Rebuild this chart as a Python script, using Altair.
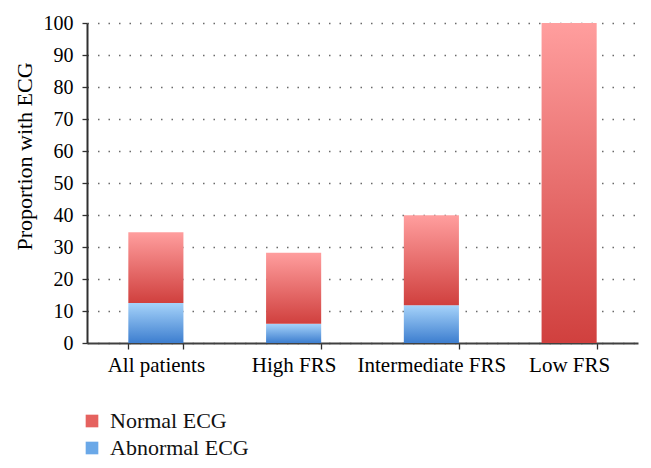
import altair as alt
import pandas as pd

categories = ["All patients", "High FRS", "Intermediate FRS", "Low FRS"]
abnormal = [12.5, 6.0, 11.8, 0.0]
normal = [22.1, 22.2, 28.1, 100.0]
series = ["Normal ECG", "Abnormal ECG"]
series_colors = ["#E5625F", "#6AA8E8"]
y_ticks = list(range(0, 101, 10))

df = pd.DataFrame({
    "category": categories,
    "abnormal": abnormal,
    "total": [a + n for a, n in zip(abnormal, normal)],
})
legend_df = pd.DataFrame({"series": series})

FONT = "Liberation Serif"

red_grad = alt.Gradient(
    gradient="linear", x1=0, x2=0, y1=0, y2=1,
    stops=[alt.GradientStop(color="#FF9E9E", offset=0),
           alt.GradientStop(color="#D0403E", offset=1)],
)
blue_grad = alt.Gradient(
    gradient="linear", x1=0, x2=0, y1=0, y2=1,
    stops=[alt.GradientStop(color="#A6D3FA", offset=0),
           alt.GradientStop(color="#3D7ECF", offset=1)],
)

x_enc = alt.X(
    "category:N", sort=categories, title=None,
    scale=alt.Scale(paddingInner=0.6, paddingOuter=0.3),
    axis=alt.Axis(labelAngle=0, tickBand="extent", labelFontSize=21,
                  labelPadding=5, tickSize=6, grid=False, domain=True,
                  ticks=True, tickColor="#303030", domainColor="#404040",
                  domainWidth=2),
)
y_axis = alt.Axis(values=y_ticks, labelFontSize=20, titleFontSize=22,
                  titlePadding=7, labelPadding=9, tickSize=5, domain=True,
                  ticks=True, grid=True, gridDash=[1.5, 9],
                  gridColor="#6a6a6a", gridWidth=1.3, titleY=133,
                  domainColor="#303030", domainWidth=2, tickColor="#303030")
y_scale = alt.Scale(domain=[0, 100], nice=False)

base = alt.Chart(df)

abn = base.mark_bar(fill=blue_grad).encode(
    x=x_enc,
    y=alt.Y("abnormal:Q", title="Proportion with ECG", scale=y_scale,
            axis=y_axis),
)
nor = base.mark_bar(fill=red_grad).encode(
    x=x_enc,
    y=alt.Y("abnormal:Q", title="Proportion with ECG", scale=y_scale,
            axis=y_axis),
    y2="total:Q",
)
leg = alt.Chart(legend_df).mark_square(opacity=0).encode(
    color=alt.Color(
        "series:N",
        scale=alt.Scale(domain=series, range=series_colors),
        legend=alt.Legend(title=None, orient="none", legendX=-6, legendY=387,
                          symbolType="square", symbolSize=160,
                          symbolOpacity=1, symbolStrokeWidth=0,
                          labelFontSize=22, labelOffset=7, rowPadding=5,
                          labelFont=FONT, labelColor="#111"),
    )
)

chart = alt.layer(abn, nor, leg).properties(
    width=551, height=320
).configure_view(stroke=None).configure_axis(
    labelFont=FONT, titleFont=FONT, labelColor="#000", titleColor="#000",
    titleFontWeight="normal", tickWidth=1.3,
)

chart.save("out.html", embed_options={"renderer": "svg", "actions": False})
